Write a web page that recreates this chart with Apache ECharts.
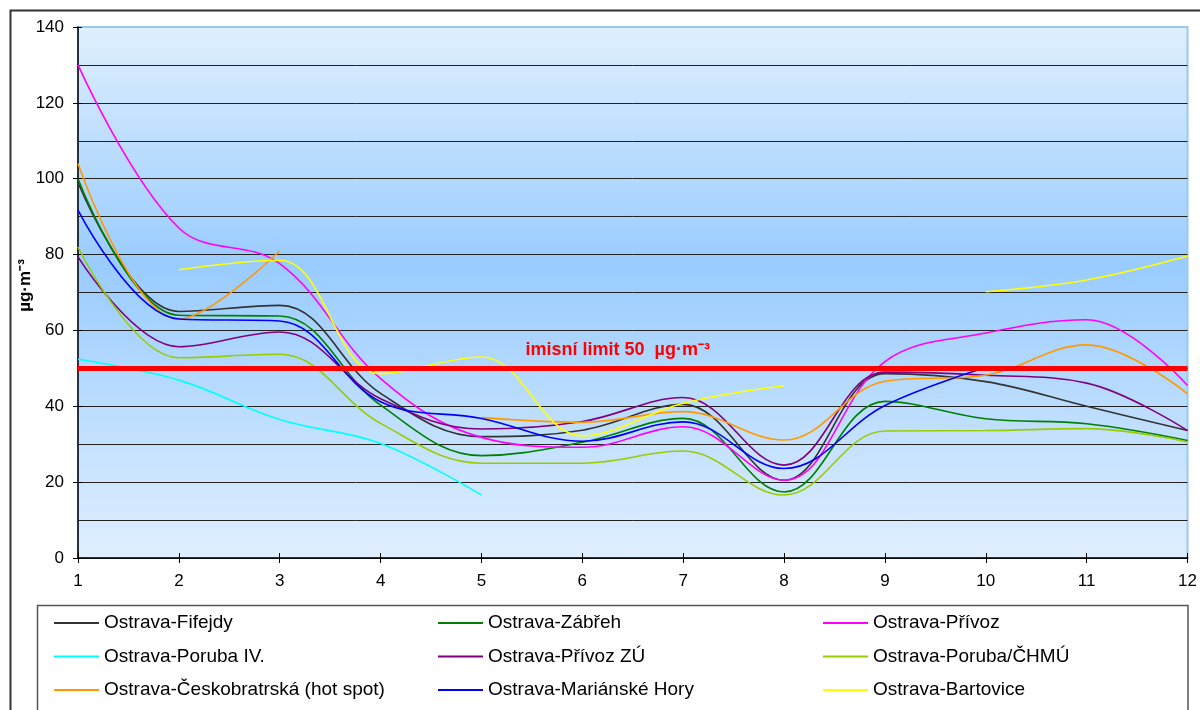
<!DOCTYPE html>
<html>
<head>
<meta charset="utf-8">
<title>Ostrava</title>
<script src="https://cdn.jsdelivr.net/npm/echarts@6/dist/echarts.min.js"></script>
<style>
  html, body { margin: 0; padding: 0; background: #fff; }
  #chart { width: 1200px; height: 710px; }
</style>
</head>
<body>
<div id="chart"></div>
<script>
// months on the x axis
var months = ['1', '2', '3', '4', '5', '6', '7', '8', '9', '10', '11', '12'];
var yTicks = [0, 20, 40, 60, 80, 100, 120, 140];
var LIMIT = 50;

// measured values (µg·m-3), null = no data
var fifejdy       = [99, 65, 66.6, 43.4, 32, 33.7, 40.5, 20.5, 48.6, 46.5, 40, 33.6];
var zabreh        = [100, 64, 63.8, 40.3, 27, 30.5, 36.8, 17.4, 41.3, 36.7, 35.4, 31];
var privoz        = [130, 87, 77.6, 47.3, 31.8, 29.2, 34.6, 20.5, 51.8, 59.3, 62.8, 45.5];
var porubaIV      = [52.4, 46.9, 36.5, 30.2, 16.6, null, null, null, null, null, null, null];
var privozZU      = [79.4, 55.7, 59.6, 42, 34, 36, 42.3, 24.5, 49, 48.2, 46.1, 33.6];
var porubaCHMU    = [82, 52.8, 53.7, 35.5, 25, 25, 28.2, 16.6, 33.5, 33.6, 34.1, 30.6];
var ceskobratrska = [104, 63, 81, null, 37, 35.8, 38.6, 31.1, 46.6, 48.2, 56.2, 43.3];
var marianske     = [91.7, 63, 62.5, 41.2, 36.8, 30.8, 35.9, 23.6, 40.2, 50.2, null, null];
var bartovice     = [null, 76, 78.5, 48.6, 53, 32.2, 40.8, 45.4, null, 70.2, 73.3, 79.6];

var names = [
  'Ostrava-Fifejdy', 'Ostrava-Zábřeh', 'Ostrava-Přívoz',
  'Ostrava-Poruba IV.', 'Ostrava-Přívoz ZÚ', 'Ostrava-Poruba/ČHMÚ',
  'Ostrava-Českobratrská (hot spot)', 'Ostrava-Mariánské Hory', 'Ostrava-Bartovice'
];
var colors = ['#333333', '#008000', '#ff00ff', '#00ffff', '#800080', '#99cc00', '#ff9900', '#0000ff', '#ffff00'];
var values = [fifejdy, zabreh, privoz, porubaIV, privozZU, porubaCHMU, ceskobratrska, marianske, bartovice];

var FONT = '"Liberation Sans", Arial, sans-serif';

var series = names.map(function (n, i) {
  return {
    name: n,
    type: 'line',
    smooth: 0.38,
    symbol: 'none',
    connectNulls: false,
    color: colors[i],
    lineStyle: { color: colors[i], width: 1.6 },
    data: values[i]
  };
});

// red limit line with its caption
series.push({
  name: 'limit',
  type: 'line',
  data: [],
  markLine: {
    silent: true,
    symbol: 'none',
    lineStyle: { color: '#ff0000', width: 5, type: 'solid' },
    label: {
      show: true,
      position: 'insideMiddleTop',
      distance: 9,
      padding: [0, 30, 0, 0],
      formatter: 'imisní limit 50  µg·m⁻³',
      color: '#ff0000',
      fontFamily: FONT,
      fontWeight: 'bold',
      fontSize: 18
    },
    data: [{ yAxis: LIMIT }]
  }
});

function legendCol(left, items) {
  return {
    orient: 'vertical',
    left: left,
    top: 613,
    padding: 0,
    icon: 'rect',
    itemWidth: 45,
    itemHeight: 2,
    itemGap: 13.5,
    data: items,
    textStyle: { fontFamily: FONT, fontSize: 19, color: '#000', lineHeight: 20 }
  };
}

var gridLineColors = yTicks.map(function (t) { return t === 140 ? 'rgba(0,0,0,0)' : '#222'; });

var chart = echarts.init(document.getElementById('chart'));
chart.setOption({
  backgroundColor: '#fff',
  animation: false,
  textStyle: { fontFamily: FONT },
  grid: {
    left: 78, right: 12, top: 27, bottom: 152,
    show: true,
    borderColor: '#9cc8f2',
    borderWidth: 2,
    backgroundColor: {
      type: 'linear', x: 0, y: 0, x2: 0, y2: 1,
      colorStops: [
        { offset: 0, color: '#e0effe' },
        { offset: 0.45, color: '#99ccff' },
        { offset: 1, color: '#e0effe' }
      ]
    }
  },
  legend: [
    legendCol(54, [names[0], names[3], names[6]]),
    legendCol(438, [names[1], names[4], names[7]]),
    legendCol(823, [names[2], names[5], names[8]])
  ],
  graphic: [
    { type: 'rect', z: -10, shape: { x: 10.5, y: 10.5, width: 1400, height: 900 },
      style: { fill: 'none', stroke: '#333', lineWidth: 2 } },
    { type: 'rect', z: -10, shape: { x: 37.5, y: 605.5, width: 1150.5, height: 300 },
      style: { fill: '#fff', stroke: '#555', lineWidth: 1.5 } }
  ],
  xAxis: [{
    type: 'category',
    data: months,
    boundaryGap: false,
    position: 'bottom',
    axisLine: { lineStyle: { color: '#000', width: 1.5 } },
    axisTick: { show: true, length: 5, lineStyle: { color: '#000' } },
    axisLabel: { color: '#000', fontSize: 17, margin: 15, fontFamily: FONT },
    splitLine: { show: false }
  }, {
    type: 'category',
    data: months,
    boundaryGap: false,
    position: 'bottom',
    axisLine: { show: false },
    axisTick: { show: true, inside: true, length: 5, lineStyle: { color: '#000' } },
    axisLabel: { show: false },
    splitLine: { show: false }
  }],
  yAxis: [{
    type: 'value',
    min: yTicks[0],
    max: yTicks[yTicks.length - 1],
    interval: 20,
    name: 'µg·m⁻³',
    nameLocation: 'middle',
    nameGap: 44,
    nameRotate: 90,
    nameMoveOverlap: false,
    nameTextStyle: { color: '#000', fontSize: 17, fontWeight: 'bold', fontFamily: FONT, padding: [0, 0, 0, 14] },
    axisLine: { show: true, lineStyle: { color: '#000', width: 1.5 } },
    axisTick: { show: true, length: 5, lineStyle: { color: '#000' } },
    axisLabel: { color: '#000', fontSize: 17, margin: 14, fontFamily: FONT },
    splitLine: { show: true, lineStyle: { color: gridLineColors, width: 1 } },
    minorTick: { show: false, splitNumber: 2 },
    minorSplitLine: { show: true, lineStyle: { color: '#222', width: 1 } }
  }, {
    type: 'value',
    min: yTicks[0],
    max: yTicks[yTicks.length - 1],
    interval: 20,
    position: 'left',
    axisLine: { show: false },
    axisTick: { show: true, inside: true, length: 4, lineStyle: { color: '#000' } },
    axisLabel: { show: false },
    splitLine: { show: false }
  }],
  series: series
});
</script>
</body>
</html>
